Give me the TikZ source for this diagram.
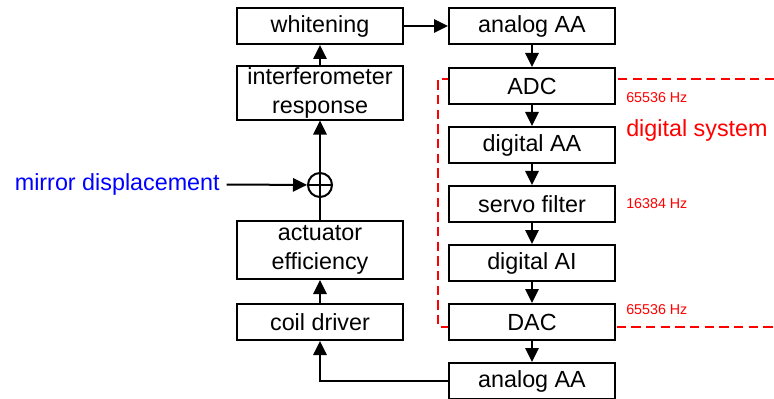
\documentclass[tikz,border=0pt]{standalone}
\usepackage{fontspec}
\setmainfont{Liberation Sans}
\usetikzlibrary{arrows.meta}

\begin{document}
\begin{tikzpicture}[x=0.75pt,y=-0.75pt,
			     >={Triangle[length=10.5pt,width=10pt]},
			     block/.style={draw,line width=1.5pt,fill=white,minimum width=124.5pt,minimum height=27pt,inner sep=1pt,align=center,font=\fontsize{17.5}{21.5}\selectfont},
			     rate/.style={text=red,inner sep=0pt,anchor=west,font=\fontsize{10.7}{12}\selectfont},
			     normal line/.style={->,line width=1.5pt}
			     ]
\useasboundingbox (0,0) rectangle (774,399);
% digital system boundary
\draw[red,line width=1.5pt,dash pattern=on 7pt off 4pt] (774,79) -- (438,79) -- (438,327) -- (774,327);
% left column
\node[block] (white) at (320,26) {whitening};
\node[block,minimum height=39pt] (ifo) at (320,93) {interferometer\\response};
\node[draw,circle,line width=1.5pt,minimum size=18pt,inner sep=0pt] (sum) at (320,185) {};
\draw[line width=1.5pt] (sum.north) -- (sum.south) (sum.west) -- (sum.east);
\node[block,minimum height=43.5pt] (act) at (320,250) {actuator\\efficiency};
\node[block] (coil) at (320,322) {coil driver};
\node[anchor=east,inner sep=0pt,text=blue,font=\fontsize{17.5}{21.5}\selectfont] (mirror) at (220,184) {mirror displacement};
% right column
\node[block] (aatop) at (532,26) {analog AA};
\node[block] (adc) at (532,86) {ADC};
\node[block] (daa) at (532,145) {digital AA};
\node[block] (servo) at (532,204) {servo filter};
\node[block] (dai) at (532,263) {digital AI};
\node[block] (dac) at (532,322) {DAC};
\node[block] (aabot) at (532,381) {analog AA};
% rates
\node[rate] (adcrate) at (626,98) {65536 Hz};
\node[rate] (servorate) at (626,204) {16384 Hz};
\node[rate] (dacrate) at (626,310) {65536 Hz};
\node[anchor=west,inner sep=0pt,text=red,font=\fontsize{17.5}{21.5}\selectfont] (dsys) at (626,130) {digital system};
% signal flow
\path (coil) edge[normal line] (act);
\path (act) edge[line width=1.5pt] (sum);
\path (mirror) edge[normal line,shorten <=5pt] (sum);
\path (sum) edge[normal line] (ifo);
\path (ifo) edge[normal line] (white);
\path (white) edge[normal line] (aatop);
\path (aatop) edge[normal line] (adc);
\path (adc) edge[normal line] (daa);
\path (daa) edge[normal line] (servo);
\path (servo) edge[normal line] (dai);
\path (dai) edge[normal line] (dac);
\path (dac) edge[normal line] (aabot);
\draw[normal line] (aabot) -| (coil);
\end{tikzpicture}
\end{document}
